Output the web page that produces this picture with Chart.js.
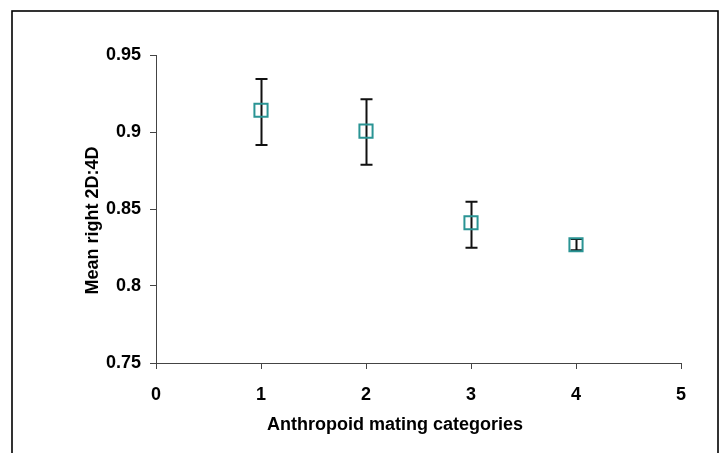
<!DOCTYPE html>
<html>
<head>
<meta charset="utf-8">
<script src="https://cdn.jsdelivr.net/npm/chart.js@4/dist/chart.umd.min.js"></script>
<style>
html,body{margin:0;padding:0;background:#fff;}
#c{display:block;}
</style>
</head>
<body>
<canvas id="c" width="725" height="453"></canvas>
<script>
// Data
const categories = [1, 2, 3, 4];
const meanValues = [0.9141, 0.9006, 0.8411, 0.8268];
const upperValues = [0.9344, 0.9212, 0.8547, 0.8306];
const lowerValues = [0.8916, 0.8788, 0.8249, 0.8232];
const xTickLabels = ['0', '1', '2', '3', '4', '5'];
const yTickLabels = ['0.75', '0.8', '0.85', '0.9', '0.95'];
const xTitle = 'Anthropoid mating categories';
const yTitle = 'Mean right 2D:4D';

const FONT = '"Liberation Sans", Arial, Helvetica, sans-serif';
const AXIS_COLOR = '#444444';

const errorBars = {
  id: 'errorBars',
  beforeDatasetsDraw(chart) {
    const {ctx, scales: {x, y}} = chart;
    ctx.save();
    ctx.strokeStyle = '#111111';
    ctx.lineWidth = 2;
    const cap = 6;
    categories.forEach((c, i) => {
      const px = Math.round(x.getPixelForValue(c)) + 0.5;
      const yt = y.getPixelForValue(upperValues[i]);
      const yb = y.getPixelForValue(lowerValues[i]);
      ctx.beginPath();
      ctx.moveTo(px, yt); ctx.lineTo(px, yb);
      ctx.moveTo(px - cap, yt); ctx.lineTo(px + cap, yt);
      ctx.moveTo(px - cap, yb); ctx.lineTo(px + cap, yb);
      ctx.stroke();
    });
    ctx.restore();
  }
};

const titlesAndBorder = {
  id: 'titlesAndBorder',
  afterDraw(chart) {
    const ctx = chart.ctx;
    ctx.save();
    ctx.fillStyle = '#000';
    ctx.font = 'bold 18px ' + FONT;
    ctx.textAlign = 'center';
    ctx.textBaseline = 'alphabetic';
    ctx.fillText(xTitle, 395, 430);
    ctx.translate(98, 220.5);
    ctx.rotate(-Math.PI / 2);
    ctx.fillText(yTitle, 0, 0);
    ctx.restore();

    ctx.save();
    ctx.strokeStyle = '#000000';
    ctx.lineWidth = 1.6;
    ctx.strokeRect(12, 11, 706, 460);
    ctx.restore();
  }
};

new Chart(document.getElementById('c'), {
  type: 'scatter',
  data: {
    datasets: [{
      data: categories.map((c, i) => ({x: c, y: meanValues[i]})),
      pointStyle: 'rect',
      pointRadius: 9.3,
      pointHoverRadius: 9.3,
      pointBorderWidth: 2,
      pointBorderColor: '#2a9494',
      pointBackgroundColor: 'rgba(0,0,0,0)',
      showLine: false
    }]
  },
  options: {
    responsive: false,
    animation: false,
    events: [],
    layout: {padding: {left: 0, top: 55, right: 44, bottom: 0}},
    plugins: {legend: {display: false}, tooltip: {enabled: false}},
    scales: {
      x: {
        type: 'linear',
        min: 0, max: 5,
        afterFit(s) { s.height = 90; },
        ticks: {
          stepSize: 1,
          padding: 15,
          color: '#000',
          font: {family: FONT, size: 18, weight: 'bold'},
          callback: (v) => xTickLabels[Math.round(v)]
        },
        grid: {drawOnChartArea: false, drawTicks: true, tickLength: 6, color: AXIS_COLOR},
        border: {display: true, color: AXIS_COLOR, width: 1}
      },
      y: {
        type: 'linear',
        min: 0.75, max: 0.95,
        afterFit(s) { s.width = 156; },
        ticks: {
          stepSize: 0.05,
          padding: 9,
          color: '#000',
          font: {family: FONT, size: 18, weight: 'bold'},
          callback: (v) => yTickLabels[Math.round((v - 0.75) / 0.05)]
        },
        grid: {drawOnChartArea: false, drawTicks: true, tickLength: 6, color: AXIS_COLOR},
        border: {display: true, color: AXIS_COLOR, width: 1}
      }
    }
  },
  plugins: [errorBars, titlesAndBorder]
});
</script>
</body>
</html>
